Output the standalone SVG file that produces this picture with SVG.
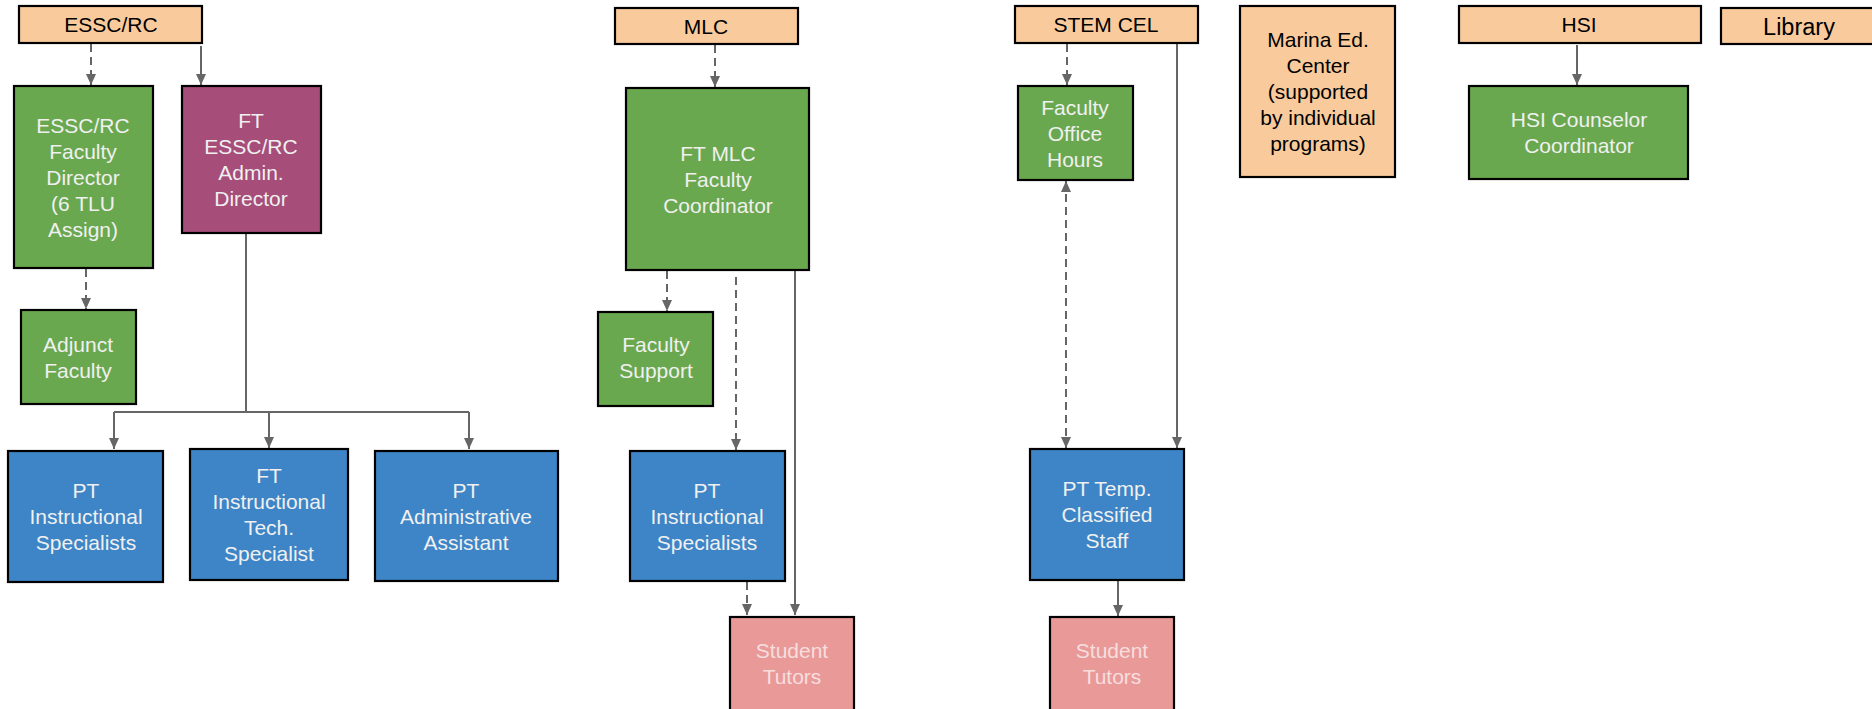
<svg xmlns="http://www.w3.org/2000/svg" width="1872" height="709" viewBox="0 0 1872 709">
<style>
.box{stroke:#000;stroke-width:2.2}
.or{fill:#f9cb9c}.gr{fill:#6aa84f}.mg{fill:#a64d79}.bl{fill:#3d85c6}.pk{fill:#ea9999}
text{font-family:"Liberation Sans",Arial,sans-serif;font-size:21px;text-anchor:middle}
.dk{fill:#000}.lt{fill:#f0f0f0}.pt{fill:#f6dede}
.c{fill:none;stroke:#666;stroke-width:2}
.d{stroke-dasharray:8,5}
</style>
<defs>
<marker id="ah" markerUnits="userSpaceOnUse" markerWidth="12" markerHeight="12" viewBox="0 0 12 12" refX="11" refY="6" orient="auto">
<path d="M0,1 L11,6 L0,11 Z" fill="#666"/>
</marker>
<marker id="as" markerUnits="userSpaceOnUse" markerWidth="12" markerHeight="12" viewBox="0 0 12 12" refX="11" refY="6" orient="auto-start-reverse">
<path d="M0,1 L11,6 L0,11 Z" fill="#666"/>
</marker>
</defs>
<rect width="1872" height="709" fill="#fff"/>

<g id="connectors">
<path class="c d" d="M91,44 V85" marker-end="url(#ah)"/>
<path class="c" d="M201,46 V85" marker-end="url(#ah)"/>
<path class="c d" d="M86,269 V309" marker-end="url(#ah)"/>
<path class="c" d="M246,233 V412"/>
<path class="c" d="M114,412 H469"/>
<path class="c" d="M114,412 V449" marker-end="url(#ah)"/>
<path class="c" d="M269,412 V448" marker-end="url(#ah)"/>
<path class="c" d="M469,412 V449" marker-end="url(#ah)"/>
<path class="c d" d="M715,45 V87" marker-end="url(#ah)"/>
<path class="c d" d="M667,271 V311" marker-end="url(#ah)"/>
<path class="c d" d="M736,277 V450" marker-end="url(#ah)"/>
<path class="c" d="M795,271 V615" marker-end="url(#ah)"/>
<path class="c d" d="M747,582 V615" marker-end="url(#ah)"/>
<path class="c d" d="M1067,44 V85" marker-end="url(#ah)"/>
<path class="c d" d="M1066,181 V448" marker-start="url(#as)" marker-end="url(#ah)"/>
<path class="c" d="M1177,43 V448" marker-end="url(#ah)"/>
<path class="c" d="M1118,581 V616" marker-end="url(#ah)"/>
<path class="c" d="M1577,45 V85" marker-end="url(#ah)"/>
</g>

<g id="essc">
<rect class="box or" x="19" y="6" width="183" height="37"/>
<text class="dk" x="111" y="32">ESSC/RC</text>
</g>
<g id="essc-faculty-director">
<rect class="box gr" x="14" y="86" width="139" height="182"/>
<text class="lt" x="83" y="133">ESSC/RC</text>
<text class="lt" x="83" y="159">Faculty</text>
<text class="lt" x="83" y="185">Director</text>
<text class="lt" x="83" y="211">(6 TLU</text>
<text class="lt" x="83" y="237">Assign)</text>
</g>
<g id="ft-essc-admin-director">
<rect class="box mg" x="182" y="86" width="139" height="147"/>
<text class="lt" x="251" y="128">FT</text>
<text class="lt" x="251" y="154">ESSC/RC</text>
<text class="lt" x="251" y="180">Admin.</text>
<text class="lt" x="251" y="206">Director</text>
</g>
<g id="adjunct-faculty">
<rect class="box gr" x="21" y="310" width="115" height="94"/>
<text class="lt" x="78" y="352">Adjunct</text>
<text class="lt" x="78" y="378">Faculty</text>
</g>
<g id="pt-instructional-specialists-1">
<rect class="box bl" x="8" y="451" width="155" height="131"/>
<text class="lt" x="86" y="498">PT</text>
<text class="lt" x="86" y="524">Instructional</text>
<text class="lt" x="86" y="550">Specialists</text>
</g>
<g id="ft-instructional-tech-specialist">
<rect class="box bl" x="190" y="449" width="158" height="131"/>
<text class="lt" x="269" y="483">FT</text>
<text class="lt" x="269" y="509">Instructional</text>
<text class="lt" x="269" y="535">Tech.</text>
<text class="lt" x="269" y="561">Specialist</text>
</g>
<g id="pt-administrative-assistant">
<rect class="box bl" x="375" y="451" width="183" height="130"/>
<text class="lt" x="466" y="498">PT</text>
<text class="lt" x="466" y="524">Administrative</text>
<text class="lt" x="466" y="550">Assistant</text>
</g>

<g id="mlc">
<rect class="box or" x="615" y="8" width="183" height="36"/>
<text class="dk" x="706" y="34">MLC</text>
</g>
<g id="ft-mlc-faculty-coordinator">
<rect class="box gr" x="626" y="88" width="183" height="182"/>
<text class="lt" x="718" y="161">FT MLC</text>
<text class="lt" x="718" y="187">Faculty</text>
<text class="lt" x="718" y="213">Coordinator</text>
</g>
<g id="faculty-support">
<rect class="box gr" x="598" y="312" width="115" height="94"/>
<text class="lt" x="656" y="352">Faculty</text>
<text class="lt" x="656" y="378">Support</text>
</g>
<g id="pt-instructional-specialists-2">
<rect class="box bl" x="630" y="451" width="155" height="130"/>
<text class="lt" x="707" y="498">PT</text>
<text class="lt" x="707" y="524">Instructional</text>
<text class="lt" x="707" y="550">Specialists</text>
</g>
<g id="student-tutors-1">
<rect class="box pk" x="730" y="617" width="124" height="106"/>
<text class="pt" x="792" y="658">Student</text>
<text class="pt" x="792" y="684">Tutors</text>
</g>

<g id="stem-cel">
<rect class="box or" x="1015" y="6" width="183" height="37"/>
<text class="dk" x="1106" y="32">STEM CEL</text>
</g>
<g id="faculty-office-hours">
<rect class="box gr" x="1018" y="86" width="115" height="94"/>
<text class="lt" x="1075" y="115">Faculty</text>
<text class="lt" x="1075" y="141">Office</text>
<text class="lt" x="1075" y="167">Hours</text>
</g>
<g id="pt-temp-classified-staff">
<rect class="box bl" x="1030" y="449" width="154" height="131"/>
<text class="lt" x="1107" y="496">PT Temp.</text>
<text class="lt" x="1107" y="522">Classified</text>
<text class="lt" x="1107" y="548">Staff</text>
</g>
<g id="student-tutors-2">
<rect class="box pk" x="1050" y="617" width="124" height="106"/>
<text class="pt" x="1112" y="658">Student</text>
<text class="pt" x="1112" y="684">Tutors</text>
</g>

<g id="marina-ed-center">
<rect class="box or" x="1240" y="6" width="155" height="171"/>
<text class="dk" x="1318" y="47">Marina Ed.</text>
<text class="dk" x="1318" y="73">Center</text>
<text class="dk" x="1318" y="99">(supported</text>
<text class="dk" x="1318" y="125">by individual</text>
<text class="dk" x="1318" y="151">programs)</text>
</g>

<g id="hsi">
<rect class="box or" x="1459" y="6" width="242" height="37"/>
<text class="dk" x="1579" y="32">HSI</text>
</g>
<g id="hsi-counselor-coordinator">
<rect class="box gr" x="1469" y="86" width="219" height="93"/>
<text class="lt" x="1579" y="127">HSI Counselor</text>
<text class="lt" x="1579" y="153">Coordinator</text>
</g>

<g id="library">
<rect class="box or" x="1721" y="8" width="160" height="36"/>
<text class="dk" x="1799" y="35" style="font-size:23.5px">Library</text>
</g>
</svg>
